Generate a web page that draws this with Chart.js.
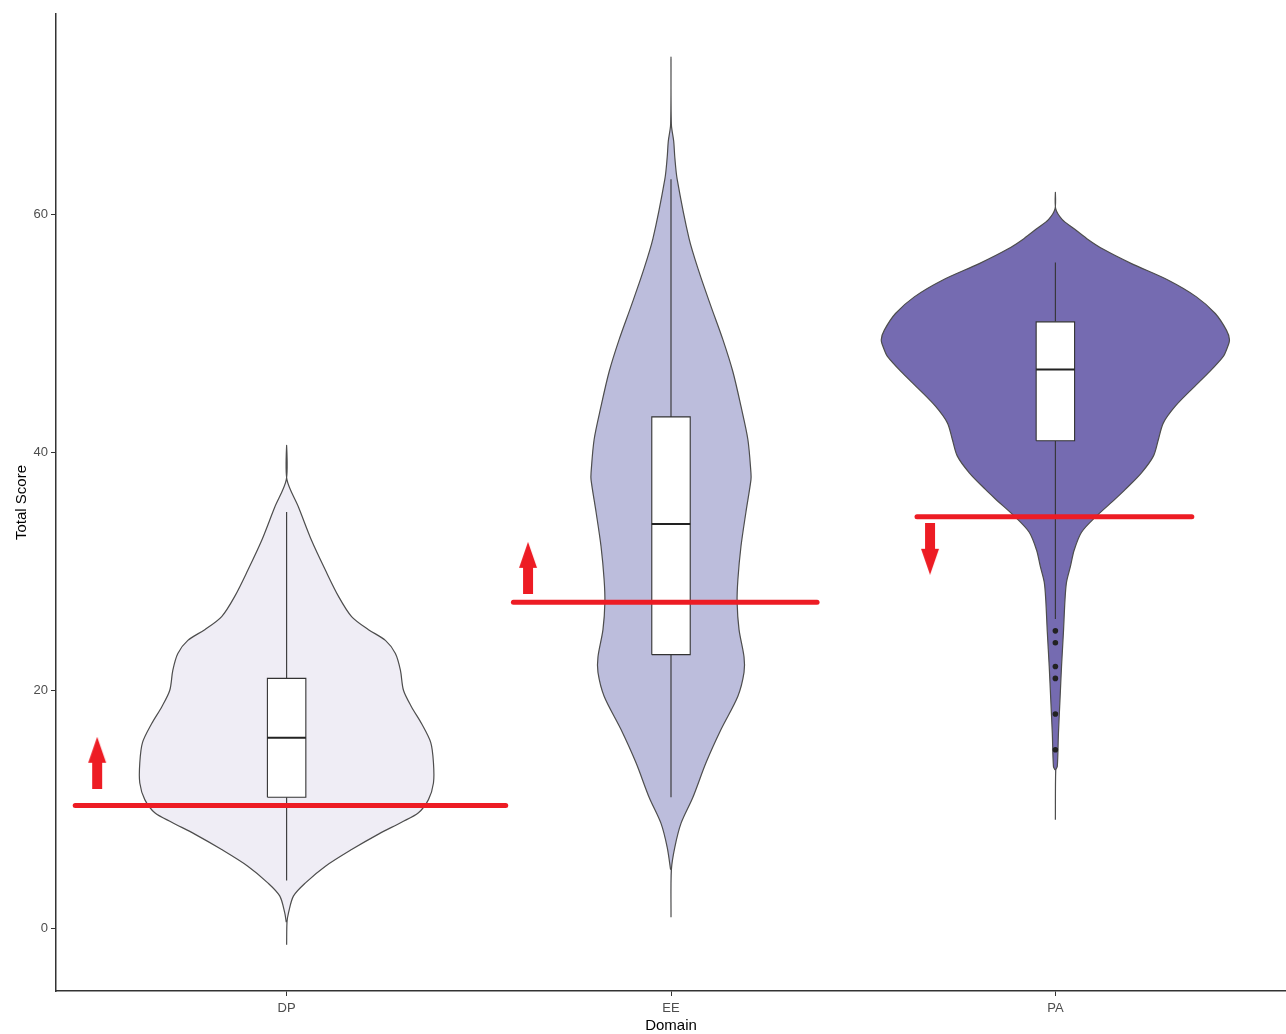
<!DOCTYPE html>
<html>
<head>
<meta charset="utf-8">
<title>Total Score by Domain</title>
<script src="https://cdn.jsdelivr.net/npm/chart.js@4.4.1/dist/chart.umd.min.js"></script>
<style>
    html, body { margin: 0; padding: 0; background: #ffffff; }
    #wrap { width: 1286px; height: 1034px; position: relative; }
</style>
</head>
<body>
<div id="wrap"><canvas id="violinChart"></canvas></div>
<script>
// categories and axis ticks
const categories = ["DP", "EE", "PA"];
const yTicks = [0, 20, 40, 60];

// violin outlines: score level and half width (in category units)
const dpLevels = [-1.4, 0.5, 1.3, 2.7, 3.8, 5.2, 6.6, 7.9, 8.9, 9.7, 10.8, 12.2, 13.9, 15.6, 17.2, 18.6, 20.0, 21.7, 23.1, 24.2, 25.1, 26.2, 27.9, 30.1, 32.6, 35.4, 37.7, 40.6];
const dpHalf   = [0, 0.001, 0.005, 0.018, 0.049, 0.101, 0.169, 0.239, 0.299, 0.343, 0.369, 0.382, 0.382, 0.375, 0.351, 0.325, 0.304, 0.296, 0.283, 0.257, 0.213, 0.169, 0.135, 0.101, 0.065, 0.031, 0.001, 0];

const eeLevels = [0.9, 4.9, 6.8, 8.8, 11.0, 13.9, 16.7, 19.5, 21.5, 22.8, 25.1, 27.4, 29.3, 32.1, 35.0, 37.7, 38.3, 41.1, 43.9, 46.8, 49.5, 52.3, 55.2, 58.0, 63.0, 64.8, 66.2, 67.6, 73.3];
const eeHalf   = [0, 0.001, 0.010, 0.026, 0.057, 0.091, 0.130, 0.174, 0.190, 0.190, 0.177, 0.172, 0.174, 0.182, 0.195, 0.208, 0.208, 0.200, 0.182, 0.161, 0.135, 0.104, 0.073, 0.047, 0.016, 0.010, 0.007, 0.001, 0];

const paLevels = [9.1, 13.3, 13.6, 16.4, 19.2, 22.0, 24.9, 27.6, 29.1, 30.4, 31.8, 33.3, 34.6, 36.1, 36.9, 38.3, 39.7, 41.1, 42.5, 43.9, 45.3, 46.7, 48.1, 48.8, 49.5, 50.3, 51.7, 53.1, 54.5, 55.9, 57.1, 58.0, 58.9, 59.6, 60.5, 61.9];
const paHalf   = [0, 0.001, 0.005, 0.008, 0.012, 0.016, 0.021, 0.025, 0.029, 0.039, 0.049, 0.068, 0.105, 0.156, 0.182, 0.224, 0.255, 0.268, 0.281, 0.312, 0.354, 0.398, 0.437, 0.447, 0.453, 0.445, 0.416, 0.367, 0.294, 0.198, 0.125, 0.082, 0.046, 0.018, 0.001, 0];

const violinColors = ["#efedf5", "#bcbddc", "#756bb1"];

// box plot stats
const whiskerLow  = [4, 11, 26];
const boxQ1       = [11, 23, 41];
const boxMedian   = [16, 34, 47];
const boxQ3       = [21, 43, 51];
const whiskerHigh = [35, 63, 56];

// outliers (PA)
const outlierCat   = [3, 3, 3, 3, 3, 3];
const outlierScore = [25, 24, 22, 21, 18, 15];

// red cut-off lines
const cutScore = [10.3, 27.4, 34.6];
const cutFrom  = [0.45, 1.59, 2.64];
const cutTo    = [1.57, 2.38, 3.355];

// red arrows (centre position + direction)
const arrowX     = [0.507, 1.628, 2.674];
const arrowScore = [13.9, 30.3, 31.9];
const arrowDir   = ["up", "up", "down"];

const BOX_HALF = 0.05;
const FONT = "'Liberation Sans', Arial, sans-serif";

// arrow glyph used as point style
function makeArrow() {
    const c = document.createElement("canvas");
    c.width = 20;
    c.height = 52;
    const g = c.getContext("2d");
    g.fillStyle = "#ed1c24";
    g.beginPath();
    g.moveTo(10, 0);
    g.lineTo(19, 26);
    g.lineTo(15, 26);
    g.lineTo(15, 52);
    g.lineTo(5, 52);
    g.lineTo(5, 26);
    g.lineTo(1, 26);
    g.closePath();
    g.fill();
    return c;
}

const datasets = [];

// **violins**
[[dpLevels, dpHalf], [eeLevels, eeHalf], [paLevels, paHalf]].forEach(([levels, half], i) => {
    const c = i + 1;
    const right = levels.map((y, k) => ({ x: c + half[k], y: y }));
    const left = levels.map((y, k) => ({ x: c - half[k], y: y })).reverse().slice(1, -1);
    datasets.push({
        data: right.concat(left),
        backgroundColor: violinColors[i],
        borderColor: "#4d4d4d",
        borderWidth: 1.2,
        fill: "shape",
        tension: 0.3,
        pointRadius: 0,
        order: 6
    });
});

// **box plots**
categories.forEach((_, i) => {
    const c = i + 1;
    datasets.push({
        data: [
            { x: c, y: whiskerLow[i] }, { x: c, y: boxQ1[i] }, { x: c, y: null },
            { x: c, y: boxQ3[i] }, { x: c, y: whiskerHigh[i] }
        ],
        borderColor: "#333333",
        borderWidth: 1.1,
        fill: false,
        pointRadius: 0,
        spanGaps: false,
        order: 5
    });
    datasets.push({
        data: [
            { x: c - BOX_HALF, y: boxQ1[i] }, { x: c + BOX_HALF, y: boxQ1[i] },
            { x: c + BOX_HALF, y: boxQ3[i] }, { x: c - BOX_HALF, y: boxQ3[i] },
            { x: c - BOX_HALF, y: boxQ1[i] }
        ],
        backgroundColor: "#ffffff",
        borderColor: "#333333",
        borderWidth: 1.1,
        fill: "shape",
        pointRadius: 0,
        order: 4
    });
    datasets.push({
        data: [{ x: c - BOX_HALF, y: boxMedian[i] }, { x: c + BOX_HALF, y: boxMedian[i] }],
        borderColor: "#222222",
        borderWidth: 2,
        fill: false,
        pointRadius: 0,
        order: 3
    });
});

// **outliers**
datasets.push({
    data: outlierScore.map((y, k) => ({ x: outlierCat[k], y: y })),
    showLine: false,
    pointRadius: 2.8,
    pointBackgroundColor: "#222222",
    pointBorderWidth: 0,
    order: 2
});

// **cut-off lines**
cutScore.forEach((s, i) => {
    datasets.push({
        data: [{ x: cutFrom[i], y: s }, { x: cutTo[i], y: s }],
        borderColor: "#ed1c24",
        borderWidth: 5,
        borderCapStyle: "round",
        fill: false,
        pointRadius: 0,
        order: 1
    });
});

// **arrows**
const arrowGlyph = makeArrow();
datasets.push({
    data: arrowX.map((x, k) => ({ x: x, y: arrowScore[k] })),
    showLine: false,
    pointStyle: arrowGlyph,
    pointRadius: 10,
    pointRotation: arrowDir.map(d => (d === "down" ? 180 : 0)),
    order: 0
});

const ctx = document.getElementById("violinChart").getContext("2d");
new Chart(ctx, {
    type: "line",
    data: { datasets: datasets },
    options: {
        responsive: true,
        maintainAspectRatio: false,
        animation: false,
        layout: { autoPadding: false, padding: { top: 14, right: 0, bottom: 0, left: 0 } },
        plugins: {
            legend: { display: false },
            tooltip: { enabled: false }
        },
        scales: {
            x: {
                type: "linear",
                min: 0.4,
                max: 3.6,
                afterBuildTicks: s => { s.ticks = categories.map((_, i) => ({ value: i + 1 })); },
                afterFit: s => { s.height = 43; },
                ticks: {
                    callback: v => categories[Math.round(v) - 1],
                    color: "#4d4d4d",
                    font: { family: FONT, size: 13 },
                    padding: 5,
                    autoSkip: false,
                    maxRotation: 0
                },
                grid: { drawOnChartArea: false, drawTicks: true, tickLength: 5, color: "#333333" },
                border: { display: true, color: "#333333", width: 1.5 },
                title: {
                    display: true,
                    text: "Domain",
                    color: "#000000",
                    font: { family: FONT, size: 15 },
                    padding: { top: 0, bottom: -1 }
                }
            },
            y: {
                type: "linear",
                min: -5.3,
                max: 76.9,
                afterBuildTicks: s => { s.ticks = yTicks.map(v => ({ value: v })); },
                afterFit: s => { s.width = 56; },
                ticks: {
                    color: "#4d4d4d",
                    font: { family: FONT, size: 13 },
                    padding: 3
                },
                grid: { drawOnChartArea: false, drawTicks: true, tickLength: 5, color: "#333333" },
                border: { display: true, color: "#333333", width: 1.5 },
                title: {
                    display: true,
                    text: "Total Score",
                    color: "#000000",
                    font: { family: FONT, size: 15 },
                    padding: { top: 13, bottom: 0 }
                }
            }
        }
    }
});
</script>
</body>
</html>
